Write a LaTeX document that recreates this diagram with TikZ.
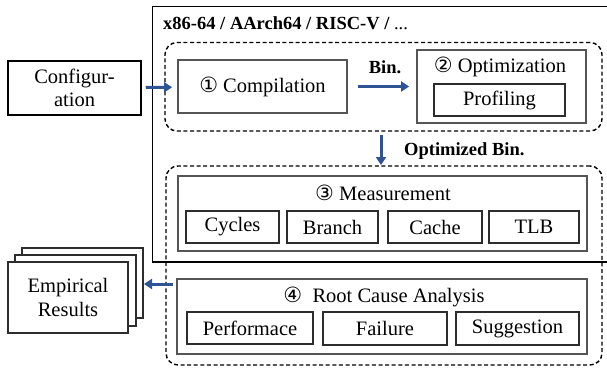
\documentclass[tikz,border=0pt]{standalone}
\usepackage{fontspec}
\setmainfont{Liberation Serif}
\newfontfamily\serifmain{Liberation Serif}
\newfontfamily\circfont{DejaVu Sans}
\usetikzlibrary{arrows.meta}
\definecolor{arrowblue}{RGB}{47,84,150}
\definecolor{stagegray}{RGB}{85,85,85}
\definecolor{subgray}{RGB}{45,45,45}
\newcommand{\cnum}[1]{{\circfont\fontsize{21}{22}\selectfont #1}}
\begin{document}
\begin{tikzpicture}[x=1pt,y=-1pt,
  font=\serifmain\fontsize{20.5}{23.5}\selectfont,
  outerframe/.style={draw=black, line width=1.6pt},
  dashbox/.style={draw=black, line width=1.4pt, dash pattern=on 4pt off 2.6pt, rounded corners=12pt},
  stagebox/.style={draw=stagegray, line width=1.8pt, inner sep=0pt},
  subbox/.style={draw=subgray, line width=1.7pt, inner sep=0pt},
  plainbox/.style={draw=black, line width=1.5pt, inner sep=0pt, fill=white, align=center},
  flow/.style={draw=arrowblue, line width=3pt, -{Triangle[length=8pt,width=10pt]}},
  boldlabel/.style={font=\serifmain\fontsize{18.5}{22}\selectfont\bfseries, inner sep=0pt},
  title/.style={inner sep=0pt}
]
\useasboundingbox (0,0) rectangle (607,368);

% outer solid frame (extends beyond right edge)
\draw[outerframe] (607,6.5) -| (152.5,262) -- (607,262);
\node[boldlabel, anchor=west] (arch) at (163,23) {x86-64 / AArch64 / RISC-V / {\mdseries ...}};

% dashed groups
\node[dashbox, minimum width=437, minimum height=88.5, inner sep=0pt] (grp1) at (383.5,86.75) {};
\node[dashbox, minimum width=436, minimum height=199, inner sep=0pt] (grp2) at (384,265.5) {};

% configuration
\node[plainbox, minimum width=133, minimum height=54] (cfg) at (74.5,88) {Configur-\\ation};

% compilation
\node[stagebox, minimum width=169, minimum height=53] (comp) at (262.5,86.5) {\cnum{①} Compilation};

% optimization
\node[stagebox, minimum width=169, minimum height=73] (opt) at (501.5,86.5) {};
\node[title] (optt) at (500,67) {\cnum{②} Optimization};
\node[subbox, minimum width=131, minimum height=32] (prof) at (499.5,100) {Profiling};

% measurement
\node[stagebox, minimum width=409, minimum height=75] (meas) at (382.5,213.5) {};
\node[title] (meast) at (383,193) {\cnum{③} Measurement};
\node[subbox, minimum width=93, minimum height=32] (cyc) at (232.5,227) {Cycles};
\node[subbox, minimum width=91, minimum height=32] (br) at (332.5,227) {Branch};
\node[subbox, minimum width=94, minimum height=32] (cache) at (435,227) {Cache};
\node[subbox, minimum width=90, minimum height=32] (tlb) at (534,227) {TLB};

% root cause analysis
\node[stagebox, minimum width=410, minimum height=75] (rca) at (382,316.5) {};
\node[title] (rcat) at (384,297) {\cnum{④}\ \ Root Cause Analysis};
\node[subbox, minimum width=126, minimum height=32] (perf) at (250,328) {Performace};
\node[subbox, minimum width=124, minimum height=33] (fail) at (385,328.5) {Failure};
\node[subbox, minimum width=123, minimum height=33] (sugg) at (517.5,328.5) {Suggestion};

% empirical results (stack)
\node[plainbox, draw=subgray, minimum width=121, minimum height=70] (emp3) at (82.5,283) {};
\node[plainbox, draw=subgray, minimum width=121, minimum height=71] (emp2) at (75.5,290.5) {};
\node[plainbox, draw=subgray, minimum width=120, minimum height=71] (emp1) at (68,297.5) {Empirical\\Results};

% connectors
\draw[flow, shorten <=4pt, shorten >=5pt] (cfg) -- (comp);
\draw[flow, shorten <=10pt, shorten >=7pt] (comp) -- (opt);
\node[boldlabel] (binl) at (385,67) {Bin.};

\coordinate (d1) at (381,131);
\coordinate (d2) at (381,166);
\draw[flow, shorten <=4pt, shorten >=1pt] (d1) -- (d2);
\node[boldlabel, anchor=west] (optbin) at (404,151) {Optimized Bin.};

\coordinate (r1) at (173,284);
\coordinate (r2) at (143,284);
\draw[flow, shorten >=1pt] (r1) -- (r2);
\end{tikzpicture}
\end{document}
